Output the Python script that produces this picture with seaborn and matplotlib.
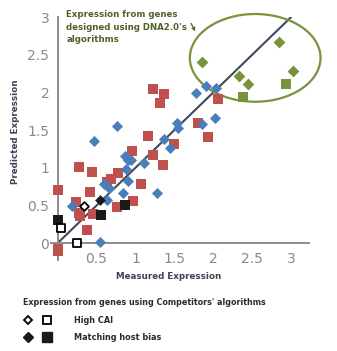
import numpy as np
import pandas as pd
import matplotlib
matplotlib.use("Agg")
import matplotlib.pyplot as plt
import seaborn as sns
from matplotlib.patches import Ellipse
from matplotlib.lines import Line2D
from matplotlib.legend_handler import HandlerTuple

# ---- data ----
blue_x = [0.47, 0.76, 1.78, 1.91, 2.04, 1.53, 1.55, 2.02, 1.86, 1.37, 1.44, 1.11, 0.94, 1.28,
          0.87, 0.91, 0.88, 0.90, 0.84, 0.59, 0.66, 0.63, 0.18, 0.54]
blue_y = [1.36, 1.55, 1.99, 2.09, 2.06, 1.60, 1.53, 1.66, 1.58, 1.38, 1.27, 1.07, 1.10, 0.67,
          1.16, 1.10, 0.98, 0.82, 0.66, 0.79, 0.73, 0.57, 0.50, 0.02]

red_x = [1.22, 1.37, 1.31, 2.06, 1.80, 1.93, 1.16, 1.49, 0.96, 1.22, 1.36, 1.07, 0.97,
         0.28, 0.44, 0.78, 0.69, 0.63, 0.41, 0.00, 0.24, 0.27, 0.29, 0.45, 0.76, 0.38, 0.01, 0.00]
red_y = [2.05, 1.98, 1.86, 1.92, 1.60, 1.41, 1.42, 1.31, 1.22, 1.17, 1.04, 0.79, 0.56,
         1.01, 0.95, 0.93, 0.85, 0.81, 0.68, 0.71, 0.55, 0.40, 0.36, 0.39, 0.48, 0.18, -0.08, -0.11]

green_dx = [1.85, 2.84, 2.33, 2.45, 3.02]
green_dy = [2.40, 2.67, 2.22, 2.11, 2.29]
green_sx = [2.93, 2.38]
green_sy = [2.11, 1.94]

cai_dx = [0.34]
cai_dy = [0.50]
cai_sx = [0.04, 0.25]
cai_sy = [0.20, 0.00]

host_dx = [0.55]
host_dy = [0.57]
host_sx = [0.01, 0.56, 0.86]
host_sy = [0.31, 0.38, 0.51]

x_ticks = [0.5, 1, 1.5, 2, 2.5, 3]
x_ticklabels = ["0.5", "1", "1.5", "2", "2.5", "3"]
y_ticks = [0, 0.5, 1, 1.5, 2, 2.5, 3]
y_ticklabels = ["0", "0.5", "1", "1.5", "2", "2.5", "3"]
diag = [0, 3]

BLUE = "#4a7ebb"
RED = "#c0504d"
GREEN = "#77933c"
DARKGREEN = "#4f6228"
LABEL = "#3b4453"
GREY = "#8c8c8c"

sns.set_style("white")
plt.rcParams["font.family"] = ["DejaVu Sans"]

fig = plt.figure(figsize=(3.37, 3.51), dpi=100)
ax = fig.add_axes([0.1525, 0.260, 0.764, 0.691])

sns.lineplot(x=diag, y=diag, ax=ax, color="#3d4a5c", linewidth=1.5, zorder=1)

def pts(x, y, marker, s, fc, ec, lw=0, z=3):
    df = pd.DataFrame({"x": x, "y": y})
    sns.scatterplot(data=df, x="x", y="y", ax=ax, marker=marker, s=s,
                    color=fc, edgecolor=ec, linewidth=lw, zorder=z, clip_on=False)

pts(red_x, red_y, "s", 58, RED, RED)
pts(blue_x, blue_y, "D", 32, BLUE, BLUE)
pts(green_dx, green_dy, "D", 36, GREEN, GREEN)
pts(green_sx, green_sy, "s", 62, GREEN, GREEN)
pts(host_sx, host_sy, "s", 58, "#1a1a1a", "#1a1a1a", z=4)
pts(host_dx, host_dy, "D", 30, "#1a1a1a", "#1a1a1a", z=4)
pts(cai_sx, cai_sy, "s", 40, "white", "black", lw=1.3, z=4)
pts(cai_dx, cai_dy, "D", 20, "white", "black", lw=1.3, z=4)

ell = Ellipse((2.54, 2.46), 1.68, 1.165, fill=False, edgecolor=GREEN,
              linewidth=1.6, clip_on=False, zorder=2)
ax.add_patch(ell)

ax.annotate("", xy=(1.785, 2.78), xytext=(1.70, 2.95),
            arrowprops=dict(arrowstyle="->", color=DARKGREEN, lw=0.9,
                            mutation_scale=5), annotation_clip=False)
ax.text(0.11, 3.09, "Expression from genes\ndesigned using DNA2.0's\nalgorithms",
        color=DARKGREEN, fontsize=6.2, fontweight="bold", ha="left", va="top",
        linespacing=1.45)

ax.set_xlim(-0.08, 3.23)
ax.set_ylim(-0.22, 3.0)
ax.spines["right"].set_visible(False)
ax.spines["top"].set_visible(False)
ax.spines["left"].set_position(("data", 0))
ax.spines["bottom"].set_position(("data", 0))
for sp in ("left", "bottom"):
    ax.spines[sp].set_color(GREY)
    ax.spines[sp].set_linewidth(1.4)
ax.set_xticks(x_ticks)
ax.set_xticklabels(x_ticklabels)
ax.set_yticks(y_ticks)
ax.set_yticklabels(y_ticklabels)
ax.tick_params(axis="both", colors=GREY, labelcolor="#8a8a8a", labelsize=10,
               length=4, width=1.2, direction="out", pad=2)
ax.set_xlabel("")
ax.set_ylabel("")

fig.text(0.045, 0.624, "Predicted Expression", rotation=90, ha="center", va="center",
         color=LABEL, fontsize=6.3, fontweight="bold")
fig.text(0.50, 0.211, "Measured Expression", ha="center", va="center",
         color=LABEL, fontsize=6.3, fontweight="bold")

fig.text(0.068, 0.137, "Expression from genes using Competitors' algorithms",
         ha="left", va="center", color="#2b2b2b", fontsize=5.8, fontweight="bold")

h1 = (Line2D([], [], marker="D", ls="", ms=4.3, mfc="white", mec="black", mew=1.3),
      Line2D([], [], marker="s", ls="", ms=6.3, mfc="white", mec="black", mew=1.3))
h2 = (Line2D([], [], marker="D", ls="", ms=5.3, mfc="#1a1a1a", mec="#1a1a1a"),
      Line2D([], [], marker="s", ls="", ms=7.0, mfc="#1a1a1a", mec="#1a1a1a"))
fig.legend(handles=[h1, h2], labels=["High CAI", "Matching host bias"],
           handler_map={tuple: HandlerTuple(ndivide=None, pad=0.5)},
           loc="upper left", bbox_to_anchor=(0.063, 0.100), frameon=False,
           handlelength=4.0, handletextpad=2.5, labelspacing=1.0,
           prop=dict(size=5.9, weight="bold"), labelcolor="#2b2b2b",
           borderaxespad=0, borderpad=0)

fig.savefig("out.png", dpi=100)
